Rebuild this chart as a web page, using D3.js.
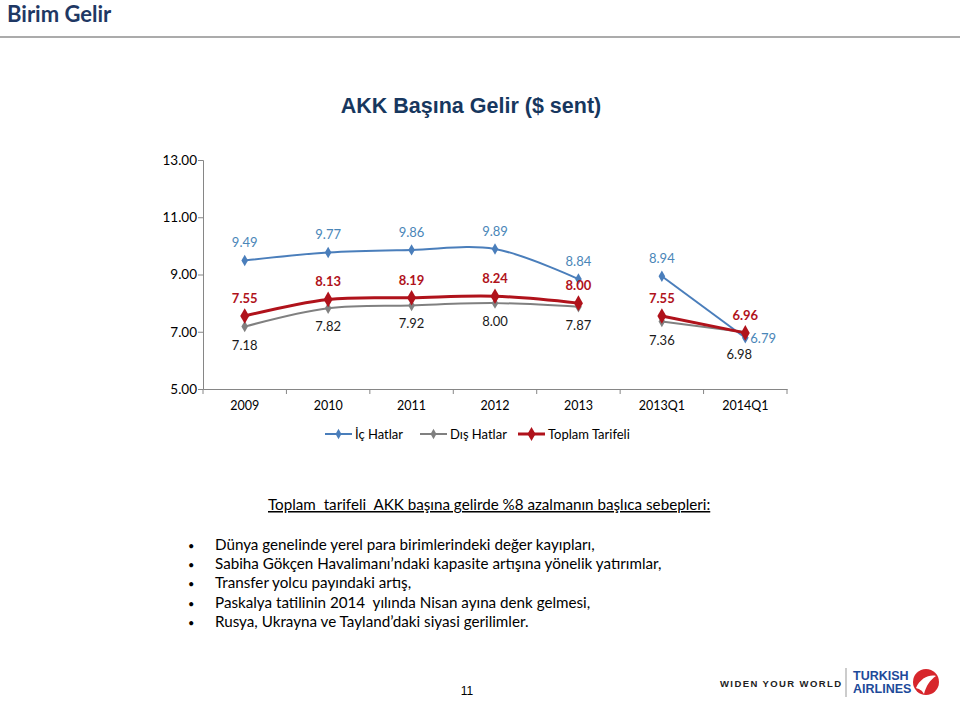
<!DOCTYPE html>
<html><head><meta charset="utf-8">
<script src="https://cdn.jsdelivr.net/npm/d3@7"></script>
<style>
body{margin:0;background:#fff;}
svg{display:block;}
</style></head>
<body>
<svg id="c" width="960" height="701"></svg>
<script>
const categories = ["2009","2010","2011","2012","2013","2013Q1","2014Q1"];
const periods = ["yıl","yıl","yıl","yıl","yıl","çeyrek","çeyrek"];
const icHatlar = [9.49, 9.77, 9.86, 9.89, 8.84, 8.94, 6.79];
const disHatlar = [7.18, 7.82, 7.92, 8.00, 7.87, 7.36, 6.98];
const toplamTarifeli = [7.55, 8.13, 8.19, 8.24, 8.00, 7.55, 6.96];
const yTicks = [5, 7, 9, 11, 13];
const seriesNames = ["İç Hatlar", "Dış Hatlar", "Toplam Tarifeli"];
const bullets = [
  "Dünya genelinde yerel para birimlerindeki değer kayıpları,",
  "Sabiha Gökçen Havalimanı’ndaki kapasite artışına yönelik yatırımlar,",
  "Transfer yolcu payındaki artış,",
  "Paskalya tatilinin 2014  yılında Nisan ayına denk gelmesi,",
  "Rusya, Ukrayna ve Tayland’daki siyasi gerilimler."
];

const svg = d3.select("#c");
const F = "Lato, 'Open Sans', sans-serif";
const A = "'Liberation Sans', Arial, sans-serif";

// Header
svg.append("text").attr("x", 7).attr("y", 22).attr("font-family", F).attr("font-weight", "bold")
  .attr("font-size", 22).attr("fill", "#1F3864").text("Birim Gelir");
svg.append("rect").attr("x", 0).attr("y", 36).attr("width", 960).attr("height", 2).attr("fill", "#ABABAB");

svg.append("text").attr("x", 471).attr("y", 113).attr("text-anchor", "middle")
  .attr("font-family", A).attr("font-weight", "bold")
  .attr("font-size", 21.5).attr("fill", "#17375E").text("AKK Başına Gelir ($ sent)");

// Chart
const x = d3.scaleBand().domain(categories).range([203, 787]);
const y = d3.scaleLinear().domain([5, 13]).range([389, 160]);
const cx = c => x(c) + x.bandwidth() / 2;
const axisColor = "#868686";

const yAxis = svg.append("g").attr("transform", "translate(203,0)")
  .call(d3.axisLeft(y).tickValues(yTicks).tickFormat(d3.format(".2f")).tickSize(5));
yAxis.select(".domain").attr("stroke", axisColor);
yAxis.selectAll(".tick line").attr("stroke", axisColor);
yAxis.selectAll(".tick text").attr("font-family", F).attr("font-size", 13.5).attr("fill", "#000").attr("x", -6);

const xAxis = svg.append("g").attr("transform", "translate(0,389)")
  .call(d3.axisBottom(x).tickSize(0).tickPadding(12));
xAxis.select(".domain").attr("stroke", axisColor);
xAxis.selectAll(".tick text").attr("font-family", F).attr("font-size", 12.5).attr("fill", "#000");
// boundary ticks between categories
const bounds = categories.map(c => x(c)).concat([x.range()[1]]);
svg.append("g").selectAll("line").data(bounds).join("line")
  .attr("x1", d => d).attr("x2", d => d).attr("y1", 389).attr("y2", 394).attr("stroke", axisColor);

const series = [
  {name: seriesNames[0], values: icHatlar, color: "#4A7EBB", width: 2, msize: 38, label: "#4A86B8", bold: false},
  {name: seriesNames[1], values: disHatlar, color: "#808080", width: 2, msize: 38, label: "#1a1a1a", bold: false},
  {name: seriesNames[2], values: toplamTarifeli, color: "#B0121B", width: 3, msize: 70, label: "#B0121B", bold: true}
];

const line = d3.line().x(d => cx(d.c)).y(d => y(d.v)).curve(d3.curveCatmullRom.alpha(0.5));
const groups = Array.from(new Set(periods));
const drawOrder = [1, 0, 2];
drawOrder.forEach(si => {
  const s = series[si];
  const pts = categories.map((c, i) => ({c, v: s.values[i], p: periods[i]}));
  groups.forEach(g => {
    const seg = pts.filter(d => d.p === g);
    svg.append("path").attr("d", line(seg)).attr("fill", "none").attr("stroke", s.color)
      .attr("stroke-width", s.width);
  });
  svg.append("g").selectAll("path").data(pts).join("path")
    .attr("transform", d => `translate(${cx(d.c)},${y(d.v)})`)
    .attr("d", d3.symbol(d3.symbolDiamond, s.msize)).attr("fill", s.color);
});

// labels
function addLabels(s, fn) {
  svg.append("g").selectAll("text").data(categories.map((c, i) => ({c, v: s.values[i], i}))).join("text")
    .each(function(d) {
      const o = fn(d);
      d3.select(this).attr("x", cx(d.c) + o[0]).attr("y", y(d.v) + o[1]).attr("text-anchor", o[2] || "middle");
    })
    .attr("font-family", F).attr("font-size", 13).attr("font-weight", s.bold ? "bold" : "normal")
    .attr("fill", s.label).text(d => d3.format(".2f")(d.v));
}
addLabels(series[0], d => d.i === 6 ? [5, 5, "start"] : [0, -13]);
addLabels(series[1], d => d.i === 6 ? [-6, 27] : (d.i === 5 ? [0, 24] : [0, 23]));
addLabels(series[2], d => [0, -13]);

// legend
const legX = [325, 420, 518];
series.forEach((s, i) => {
  const g = svg.append("g").attr("transform", `translate(${legX[i]},434)`);
  g.append("line").attr("x1", 0).attr("x2", 27).attr("stroke", s.color).attr("stroke-width", s.width);
  g.append("path").attr("transform", "translate(13.5,0)").attr("d", d3.symbol(d3.symbolDiamond, s.msize * 0.8)).attr("fill", s.color);
  g.append("text").attr("x", 30).attr("y", 4.5).attr("font-family", F).attr("font-size", 13).attr("fill", "#000").text(s.name);
});

// explanatory text
svg.append("text").attr("x", 268).attr("y", 510).attr("font-family", F).attr("font-size", 15.2)
  .attr("text-decoration", "underline").attr("fill", "#000").attr("xml:space", "preserve")
  .text("Toplam  tarifeli  AKK başına gelirde %8 azalmanın başlıca sebepleri:");
const bl = svg.append("g");
bullets.forEach((b, i) => {
  const yy = 550 + i * 19.2;
  bl.append("text").attr("x", 188).attr("y", yy).attr("font-family", F).attr("font-size", 11).text("•");
  bl.append("text").attr("x", 215).attr("y", yy).attr("font-family", F).attr("font-size", 15.2)
    .attr("xml:space", "preserve").attr("fill", "#000").text(b);
});

// page number
svg.append("text").attr("x", 467).attr("y", 695).attr("text-anchor", "middle")
  .attr("font-family", A).attr("font-size", 12).text("11");

// logo
svg.append("text").attr("x", 720).attr("y", 687).attr("font-family", A)
  .attr("font-weight", "bold").attr("font-size", 9.5).attr("letter-spacing", 1.4).attr("fill", "#222").text("WIDEN YOUR WORLD");
svg.append("line").attr("x1", 846).attr("x2", 846).attr("y1", 668).attr("y2", 697).attr("stroke", "#999");
svg.append("text").attr("x", 853).attr("y", 680).attr("font-family", A)
  .attr("font-weight", "bold").attr("font-size", 12.5).attr("fill", "#1D4A9A").text("TURKISH");
svg.append("text").attr("x", 853).attr("y", 693).attr("font-family", A)
  .attr("font-weight", "bold").attr("font-size", 12.5).attr("fill", "#1D4A9A").text("AIRLINES");
svg.append("circle").attr("cx", 926).attr("cy", 682).attr("r", 13).attr("fill", "#D7262C");
svg.append("path").attr("d", "M916,688 C920,678 930,674 936,676 C930,680 926,686 924,694 C922,690 919,689 916,688 Z").attr("fill", "#fff");
</script>
</body></html>
